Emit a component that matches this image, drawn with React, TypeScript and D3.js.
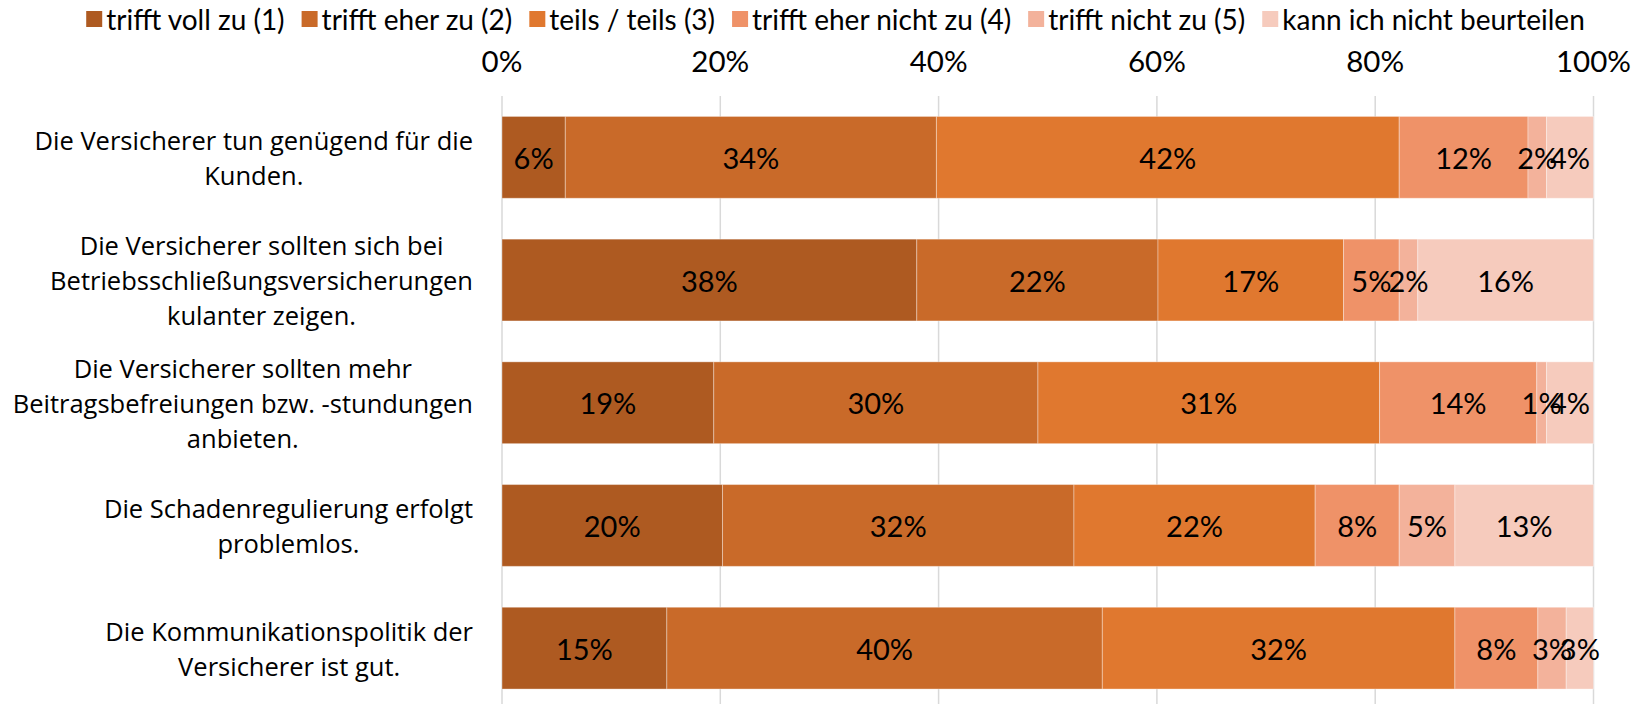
import React, { useEffect, useRef } from "react";
import * as d3 from "d3";

const categories: string[][] = [
  ["Die Versicherer tun genügend für die", "Kunden."],
  ["Die Versicherer sollten sich bei", "Betriebsschließungsversicherungen", "kulanter zeigen."],
  ["Die Versicherer sollten mehr", "Beitragsbefreiungen bzw. -stundungen", "anbieten."],
  ["Die Schadenregulierung erfolgt", "problemlos."],
  ["Die Kommunikationspolitik der", "Versicherer ist gut."],
];

const seriesNames = [
  "trifft voll zu (1)",
  "trifft eher zu (2)",
  "teils / teils (3)",
  "trifft eher nicht zu (4)",
  "trifft nicht zu (5)",
  "kann ich nicht beurteilen",
];

const s1 = [5.8, 38.0, 19.4, 20.2, 15.1];
const s2 = [34.0, 22.1, 29.7, 32.2, 39.9];
const s3 = [42.4, 17.0, 31.3, 22.1, 32.3];
const s4 = [11.8, 5.1, 14.4, 7.7, 7.6];
const s5 = [1.7, 1.7, 0.9, 5.1, 2.6];
const s6 = [4.3, 16.1, 4.3, 12.7, 2.5];

const labels1 = ["6%", "38%", "19%", "20%", "15%"];
const labels2 = ["34%", "22%", "30%", "32%", "40%"];
const labels3 = ["42%", "17%", "31%", "22%", "32%"];
const labels4 = ["12%", "5%", "14%", "8%", "8%"];
const labels5 = ["2%", "2%", "1%", "5%", "3%"];
const labels6 = ["4%", "16%", "4%", "13%", "3%"];

const tickValues = [0, 20, 40, 60, 80, 100];

const colors = ["#AE5A21", "#C96A29", "#E0782F", "#EF9268", "#F3B29B", "#F6CBBD"];

const W = 1644;
const H = 704;
const NARROW = "Lato, 'Open Sans', sans-serif";
const CAT_FONT = "'Open Sans', 'Noto Sans', sans-serif";

export default function App() {
  const ref = useRef<SVGSVGElement>(null);

  useEffect(() => {
    const svg = d3.select(ref.current);
    svg.selectAll("*").remove();

    const values = [s1, s2, s3, s4, s5, s6];
    const texts = [labels1, labels2, labels3, labels4, labels5, labels6];

    const x = d3.scaleLinear().domain([0, 100]).range([502, 1593.5]);
    const y = d3
      .scaleBand<number>()
      .domain(categories.map((_, i) => i))
      .range([96, 709.5])
      .paddingInner(1 / 3)
      .paddingOuter(1 / 6);

    // gridlines
    svg
      .append("g")
      .selectAll("line")
      .data(tickValues)
      .join("line")
      .attr("x1", (d) => x(d))
      .attr("x2", (d) => x(d))
      .attr("y1", 96)
      .attr("y2", H)
      .attr("stroke", "#D9D9D9")
      .attr("stroke-width", 1.5);

    // axis labels top
    svg
      .append("g")
      .selectAll("text")
      .data(tickValues)
      .join("text")
      .attr("x", (d) => x(d))
      .attr("y", 60)
      .attr("text-anchor", "middle")
      .attr("dominant-baseline", "central")
      .attr("font-family", NARROW)
      .attr("font-size", 29.5)
      .attr("fill", "#000")
      .text((d) => d + "%");

    // bars
    const gBars = svg.append("g");
    categories.forEach((_, ci) => {
      let cum = 0;
      values.forEach((ser, si) => {
        const v = ser[ci];
        const x0 = x(cum);
        const x1 = x(cum + v);
        gBars
          .append("rect")
          .attr("x", x0)
          .attr("y", y(ci)!)
          .attr("width", x1 - x0)
          .attr("height", y.bandwidth())
          .attr("fill", colors[si])
          .attr("stroke", "#FFFFFF")
          .attr("stroke-opacity", 0.35)
          .attr("stroke-width", 1);
        cum += v;
      });
    });

    // data labels
    const gLab = svg.append("g");
    categories.forEach((_, ci) => {
      let cum = 0;
      values.forEach((ser, si) => {
        const v = ser[ci];
        gLab
          .append("text")
          .attr("x", x(cum + v / 2))
          .attr("y", y(ci)! + y.bandwidth() / 2)
          .attr("text-anchor", "middle")
          .attr("dominant-baseline", "central")
          .attr("font-family", NARROW)
          .attr("font-size", 29)
          .attr("fill", "#000")
          .text(texts[si][ci]);
        cum += v;
      });
    });

    // category labels
    const gCat = svg.append("g");
    const lineH = 35;
    const rightEdge = 473;
    categories.forEach((lines, ci) => {
      const g = gCat.append("g");
      const cy = y(ci)! + y.bandwidth() / 2;
      const ts = lines.map((l, li) =>
        g
          .append("text")
          .attr("y", cy + (li - (lines.length - 1) / 2) * lineH)
          .attr("text-anchor", "middle")
          .attr("dominant-baseline", "central")
          .attr("font-family", CAT_FONT)
          .attr("font-size", 25.5)
          .attr("fill", "#000")
          .text(l)
      );
      const maxW = d3.max(ts, (t) => (t.node() as SVGTextElement).getComputedTextLength()) || 0;
      ts.forEach((t) => t.attr("x", rightEdge - maxW / 2));
    });

    // legend
    const gLeg = svg.append("g");
    const markerSize = 16;
    const markerGap = 4;
    const itemGap = 17;
    let cx = 0;
    const items: { g: any; w: number }[] = [];
    seriesNames.forEach((name, i) => {
      const g = gLeg.append("g");
      g.append("rect")
        .attr("x", 0)
        .attr("y", 19 - markerSize / 2)
        .attr("width", markerSize)
        .attr("height", markerSize)
        .attr("fill", colors[i]);
      const t = g
        .append("text")
        .attr("x", markerSize + markerGap)
        .attr("y", 19)
        .attr("dominant-baseline", "central")
        .attr("font-family", NARROW)
        .attr("font-size", 28)
        .attr("fill", "#000")
        .text(name);
      const w = markerSize + markerGap + (t.node() as SVGTextElement).getComputedTextLength();
      items.push({ g, w });
    });
    const total = d3.sum(items, (d) => d.w) + itemGap * (items.length - 1);
    cx = 835.5 - total / 2;
    items.forEach((it) => {
      it.g.attr("transform", `translate(${cx},0)`);
      cx += it.w + itemGap;
    });
  }, []);

  return (
    <svg
      ref={ref}
      width={W}
      height={H}
      style={{ position: "absolute", left: 0, top: 0, background: "#fff" }}
    />
  );
}
